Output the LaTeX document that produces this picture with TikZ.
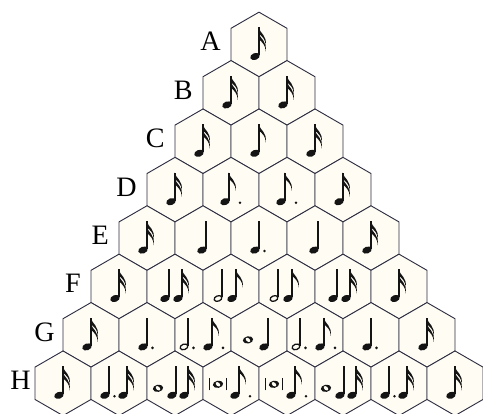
\documentclass[tikz,border=0pt]{standalone}
\usepackage{fontspec}
\setmainfont{Liberation Serif}
\usetikzlibrary{shapes.geometric,positioning}
\definecolor{cellLine}{RGB}{45,45,65}
\definecolor{cellFill}{RGB}{254,252,243}
\definecolor{noteInk}{RGB}{20,20,20}

\begin{document}
\begin{tikzpicture}[
  x=0.025cm, y=0.025cm,
  cell/.style={
    regular polygon,
    regular polygon sides=6,
    shape border rotate=30,
    minimum size=1.6165cm,
    inner sep=0pt,
    outer sep=0pt,
    draw=cellLine,
    fill=cellFill,
    line width=0.65pt,
  },
  rowlbl/.style={
    font=\fontsize{20}{22}\selectfont,
    inner sep=0pt,
    yshift=2pt,
  },
  notestem/.style={noteInk, line width=1.15pt},
  crot/.pic={
    \fill[noteInk, shift={(0,-12)}, rotate=20] (0,0) ellipse (4.9 and 3.4);
    \draw[notestem] (4.2,-11) -- (4.2,17);
  },
  quav/.pic={
    \pic {crot};
    \fill[noteInk] (3.6,17) .. controls (5,11) and (12.5,9) .. (10.5,-1)
      .. controls (11,5) and (7,8) .. (3.6,11) -- cycle;
  },
  squav/.pic={
    \pic {quav};
    \fill[noteInk] (3.6,11.5) .. controls (5,5.5) and (12.5,3.5) .. (10.5,-7)
      .. controls (11,-1) and (7,2.5) .. (3.6,5.5) -- cycle;
  },
  mini/.pic={
    \draw[noteInk, line width=0.9pt, shift={(0,-12)}, rotate=20]
      (0,0) ellipse (4 and 2.7);
    \draw[notestem] (4.3,-11) -- (4.3,17);
  },
  sbrev/.pic={
    \fill[noteInk, shift={(0,-5)}, rotate=10] (0,0) ellipse (5.2 and 3.6);
    \fill[cellFill, shift={(0,-5)}, rotate=-40] (0,0) ellipse (2.7 and 1.7);
  },
  brev/.pic={
    \fill[noteInk, shift={(0,-1)}, rotate=10] (0,0) ellipse (5.2 and 3.6);
    \fill[cellFill, shift={(0,-1)}, rotate=-40] (0,0) ellipse (2.7 and 1.7);
    \draw[noteInk, line width=0.8pt] (-8.5,-7) -- (-8.5,5) (8.5,-7) -- (8.5,5);
  },
  dcrot/.pic={\pic {crot}; \fill[noteInk] (9.5,-13) circle (1.4);},
  dquav/.pic={\pic {quav}; \fill[noteInk] (15,-13) circle (1.4);},
  dmini/.pic={\pic {mini}; \fill[noteInk] (9.5,-13) circle (1.4);},
]

  \useasboundingbox (0,0) rectangle (483,414);

  % honeycomb, one row per letter
  \node[cell] (a1) at (259,369.5) {};

  \node[cell] (b1) at (231,321.1) {};
  \node[cell] (b2) at (287,321.1) {};

  \node[cell] (c1) at (203,272.7) {};
  \node[cell] (c2) at (259,272.7) {};
  \node[cell] (c3) at (315,272.7) {};

  \node[cell] (d1) at (175,224.3) {};
  \node[cell] (d2) at (231,224.3) {};
  \node[cell] (d3) at (287,224.3) {};
  \node[cell] (d4) at (343,224.3) {};

  \node[cell] (e1) at (147,175.9) {};
  \node[cell] (e2) at (203,175.9) {};
  \node[cell] (e3) at (259,175.9) {};
  \node[cell] (e4) at (315,175.9) {};
  \node[cell] (e5) at (371,175.9) {};

  \node[cell] (f1) at (119,127.5) {};
  \node[cell] (f2) at (175,127.5) {};
  \node[cell] (f3) at (231,127.5) {};
  \node[cell] (f4) at (287,127.5) {};
  \node[cell] (f5) at (343,127.5) {};
  \node[cell] (f6) at (399,127.5) {};

  \node[cell] (g1) at (91,79.1) {};
  \node[cell] (g2) at (147,79.1) {};
  \node[cell] (g3) at (203,79.1) {};
  \node[cell] (g4) at (259,79.1) {};
  \node[cell] (g5) at (315,79.1) {};
  \node[cell] (g6) at (371,79.1) {};
  \node[cell] (g7) at (427,79.1) {};

  \node[cell] (h1) at (63,30.7) {};
  \node[cell] (h2) at (119,30.7) {};
  \node[cell] (h3) at (175,30.7) {};
  \node[cell] (h4) at (231,30.7) {};
  \node[cell] (h5) at (287,30.7) {};
  \node[cell] (h6) at (343,30.7) {};
  \node[cell] (h7) at (399,30.7) {};
  \node[cell] (h8) at (455,30.7) {};

  \node[rowlbl, left=0.25cm of a1] (lblA) {A};
  \node[rowlbl, left=0.25cm of b1] (lblB) {B};
  \node[rowlbl, left=0.25cm of c1] (lblC) {C};
  \node[rowlbl, left=0.25cm of d1] (lblD) {D};
  \node[rowlbl, left=0.25cm of e1] (lblE) {E};
  \node[rowlbl, left=0.25cm of f1] (lblF) {F};
  \node[rowlbl, left=0.2cm of g1] (lblG) {G};
  \node[rowlbl, left=0.1cm of h1] (lblH) {H};

  % rhythms
  \pic at ([shift={(-4,0)}]a1) {squav};

  \pic at ([shift={(-4,0)}]b1) {squav};
  \pic at ([shift={(-4,0)}]b2) {squav};

  \pic at ([shift={(-4,0)}]c1) {squav};
  \pic at ([shift={(-4,0)}]c2) {quav};
  \pic at ([shift={(-4,0)}]c3) {squav};

  \pic at ([shift={(-4,0)}]d1) {squav};
  \pic at ([shift={(-6,0)}]d2) {dquav};
  \pic at ([shift={(-6,0)}]d3) {dquav};
  \pic at ([shift={(-4,0)}]d4) {squav};

  \pic at ([shift={(-4,0)}]e1) {squav};
  \pic at ([shift={(-1,0)}]e2) {crot};
  \pic at ([shift={(-4,0)}]e3) {dcrot};
  \pic at ([shift={(-1,0)}]e4) {crot};
  \pic at ([shift={(-4,0)}]e5) {squav};

  \pic at ([shift={(-4,0)}]f1) {squav};
  \pic at ([shift={(-10,0)}]f2) {crot};
  \pic at ([shift={(3,0)}]f2) {squav};
  \pic at ([shift={(-13,0)}]f3) {mini};
  \pic at ([shift={(1,0)}]f3) {quav};
  \pic at ([shift={(-13,0)}]f4) {mini};
  \pic at ([shift={(1,0)}]f4) {quav};
  \pic at ([shift={(-10,0)}]f5) {crot};
  \pic at ([shift={(3,0)}]f5) {squav};
  \pic at ([shift={(-4,0)}]f6) {squav};

  \pic at ([shift={(-4,0)}]g1) {squav};
  \pic at ([shift={(-4,0)}]g2) {dcrot};
  \pic at ([shift={(-19,0)}]g3) {dmini};
  \pic at ([shift={(5,0)}]g3) {dquav};
  \pic at ([shift={(-11,0)}]g4) {sbrev};
  \pic at ([shift={(5,0)}]g4) {crot};
  \pic at ([shift={(-19,0)}]g5) {dmini};
  \pic at ([shift={(5,0)}]g5) {dquav};
  \pic at ([shift={(-4,0)}]g6) {dcrot};
  \pic at ([shift={(-4,0)}]g7) {squav};

  \pic at ([shift={(-4,0)}]h1) {squav};
  \pic at ([shift={(-14,0)}]h2) {dcrot};
  \pic at ([shift={(4,0)}]h2) {squav};
  \pic at ([shift={(-17,0)}]h3) {sbrev};
  \pic at ([shift={(-3,0)}]h3) {crot};
  \pic at ([shift={(9,0)}]h3) {squav};
  \pic at ([shift={(-13,0)}]h4) {brev};
  \pic at ([shift={(4,0)}]h4) {dquav};
  \pic at ([shift={(-13,0)}]h5) {brev};
  \pic at ([shift={(4,0)}]h5) {dquav};
  \pic at ([shift={(-17,0)}]h6) {sbrev};
  \pic at ([shift={(-3,0)}]h6) {crot};
  \pic at ([shift={(9,0)}]h6) {squav};
  \pic at ([shift={(-14,0)}]h7) {dcrot};
  \pic at ([shift={(4,0)}]h7) {squav};
  \pic at ([shift={(-4,0)}]h8) {squav};

\end{tikzpicture}
\end{document}
